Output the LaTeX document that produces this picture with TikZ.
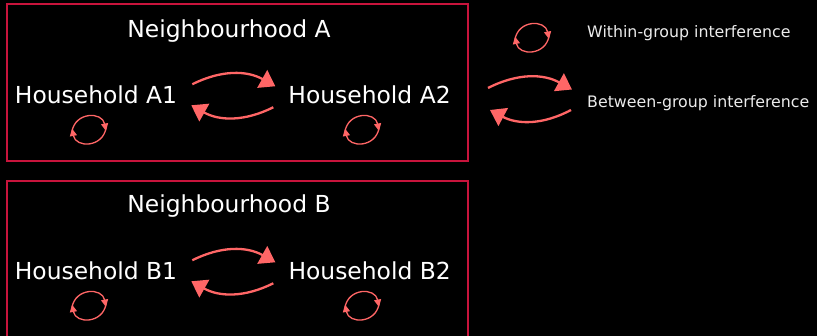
\documentclass[tikz,border=0pt]{standalone}
\usepackage{fontspec}
\setmainfont{DejaVu Sans}
\usepackage{tikz}
\usetikzlibrary{arrows.meta, bending, positioning}
\definecolor{hoodred}{HTML}{C8143C}
\definecolor{link}{HTML}{FF6666}

\begin{document}
\begin{tikzpicture}[
      x=1pt, y=-1pt,
      node distance=111pt,
      hood/.style={draw=hoodred, line width=2pt, inner sep=0pt},
      title/.style={text=white, inner sep=0pt, anchor=base, font=\fontsize{23.4}{28}\selectfont},
      house/.style={text=white, inner sep=0pt, anchor=base, font=\fontsize{23.4}{28}\selectfont},
      legend/.style={text=white!92!black, inner sep=0pt, anchor=base west, font=\fontsize{15.8}{19}\selectfont},
      between/.style={-{Triangle[length=15pt, width=20pt, quick]}, link, line width=2.3pt, bend left=28},
      within/.style={-{Triangle[length=7.5pt, width=7pt, quick]}, link, line width=1.3pt, bend left=80, looseness=1.5},
   ]
   \useasboundingbox (0,0) rectangle (817,336);
   \fill[black] (0,0) rectangle (817,336);
   \clip (0,0) rectangle (817,336);

   % Neighbourhood boxes
   \node[hood, minimum width=461pt, minimum height=157pt] (hoodA) at (237.5,82.5) {};
   \node[hood, minimum width=461pt, minimum height=165pt, anchor=north] (hoodB) at (237.5,180) {};
   \node[title] (titleA) at (229,37.7) {Neighbourhood A};
   \node[title] (titleB) at (229,212.7) {Neighbourhood B};

   % Households
   \node[house] (a1) at (96,104) {Household A1};
   \node[house, right=of a1] (a2) {Household A2};
   \node[house] (b1) at (96,280) {Household B1};
   \node[house, right=of b1] (b2) {Household B2};

   % Legend
   \node[legend] (within) at (587,38) {Within-group interference};
   \node[legend] (betw) at (587,108) {Between-group interference};

   % Loop ends under each household
   \coordinate (a1l) at (72,130);  \coordinate (a1r) at (106,130);
   \coordinate (a2l) at (345,130); \coordinate (a2r) at (379,130);
   \coordinate (b1l) at (72,306);  \coordinate (b1r) at (106,306);
   \coordinate (b2l) at (345,306); \coordinate (b2r) at (379,306);
   \coordinate (lgl) at (515,38);  \coordinate (lgr) at (549,38);
   \coordinate (lgtop) at (488,88); \coordinate (lgtip) at (572,89.5);
   \coordinate (lgbot) at (571,110); \coordinate (lgend) at (490,110);

   % Between-group interference
   \draw[between] ([shift={(15,-11)}]a1.east) to ([shift={(-13,-9)}]a2.west);
   \draw[between] ([shift={(-15,12)}]a2.west) to ([shift={(14,10)}]a1.east);
   \draw[between] ([shift={(15,-11)}]b1.east) to ([shift={(-13,-9)}]b2.west);
   \draw[between] ([shift={(-15,12)}]b2.west) to ([shift={(14,10)}]b1.east);
   \draw[between] (lgtop) to (lgtip);
   \draw[between] (lgbot) to (lgend);

   % Within-group interference
   \draw[within] ([yshift=-1.5pt]a1l) to ([yshift=-1pt]a1r);
   \draw[within] ([yshift=2pt]a1r) to ([yshift=1.5pt]a1l);
   \draw[within] ([yshift=-1.5pt]a2l) to ([yshift=-1pt]a2r);
   \draw[within] ([yshift=2pt]a2r) to ([yshift=1.5pt]a2l);
   \draw[within] ([yshift=-1.5pt]b1l) to ([yshift=-1pt]b1r);
   \draw[within] ([yshift=2pt]b1r) to ([yshift=1.5pt]b1l);
   \draw[within] ([yshift=-1.5pt]b2l) to ([yshift=-1pt]b2r);
   \draw[within] ([yshift=2pt]b2r) to ([yshift=1.5pt]b2l);
   \draw[within] ([yshift=-1.5pt]lgl) to ([yshift=-1pt]lgr);
   \draw[within] ([yshift=2pt]lgr) to ([yshift=1.5pt]lgl);
\end{tikzpicture}
\end{document}
